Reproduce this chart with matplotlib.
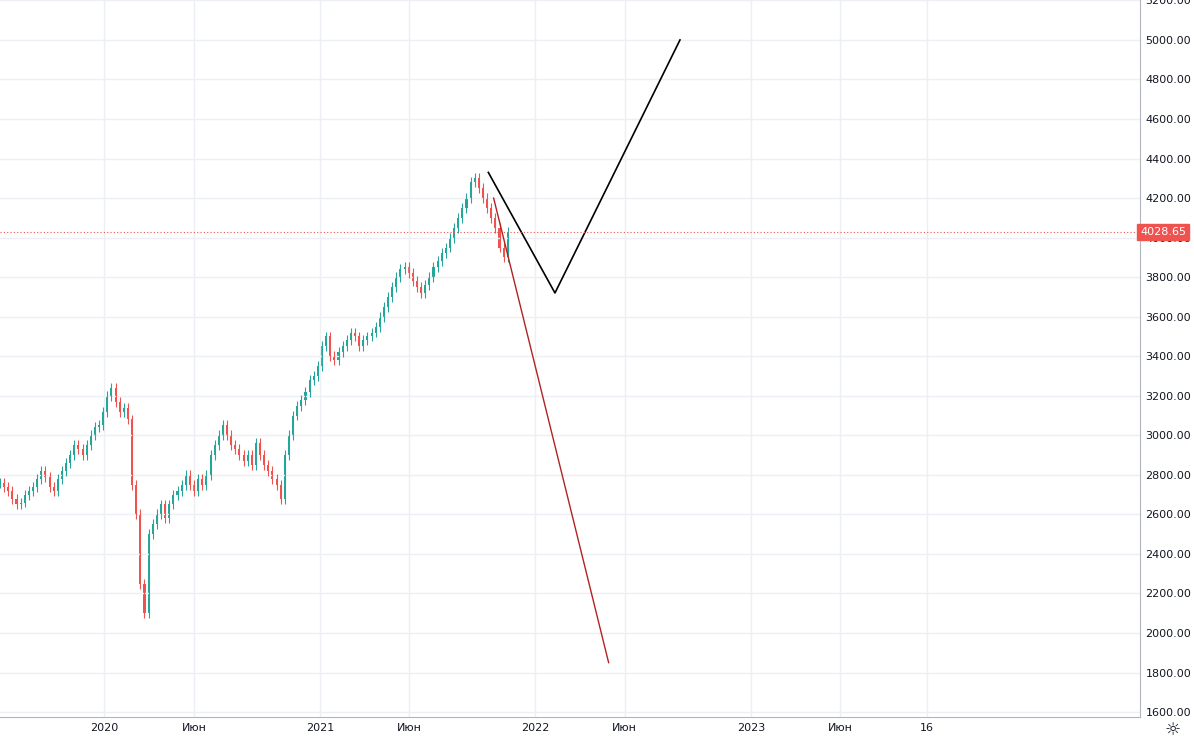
import matplotlib
matplotlib.use("Agg")
import matplotlib.pyplot as plt
import matplotlib.dates as mdates
import numpy as np
import datetime as dt

# weekly closes starting 2019-07-08
start = dt.date(2019, 7, 8)
closes = [2760, 2740, 2720, 2680, 2650, 2660, 2700, 2720, 2740, 2780, 2820, 2790, 2740, 2720,
          2780, 2820, 2860, 2900, 2950, 2930, 2900, 2950, 3000, 3040, 3050, 3120, 3200, 3240,
          3170, 3120, 3140, 3080, 2750, 2600, 2250, 2100, 2500, 2550, 2600, 2650, 2580, 2650,
          2700, 2720, 2750, 2800, 2750, 2720, 2780, 2750, 2800, 2900, 2950, 3000, 3050, 3000,
          2950, 2930, 2900, 2870, 2900, 2850, 2960, 2900, 2850, 2820, 2780, 2750, 2680, 2900,
          3000, 3100, 3150, 3180, 3220, 3280, 3300, 3350, 3450, 3500, 3400, 3380, 3420, 3450,
          3480, 3520, 3500, 3450, 3480, 3500, 3520, 3550, 3600, 3650, 3700, 3750, 3800, 3840,
          3850, 3820, 3780, 3750, 3720, 3760, 3800, 3850, 3880, 3920, 3950, 4000, 4050, 4100,
          4150, 4200, 4280, 4300, 4250, 4200, 4150, 4100, 4050, 3950, 3900, 4028.65]
last_price = 4028.65

black_dates = [dt.date(2021, 10, 13), dt.date(2022, 2, 3), dt.date(2022, 9, 3)]
black_vals = [4330, 3720, 5000]
red_dates = [dt.date(2021, 10, 22), dt.date(2022, 5, 5)]
red_vals = [4200, 1850]

tick_dates = [dt.date(2020, 1, 1), dt.date(2020, 6, 1), dt.date(2021, 1, 1), dt.date(2021, 6, 1),
              dt.date(2022, 1, 1), dt.date(2022, 6, 1), dt.date(2023, 1, 1), dt.date(2023, 6, 1),
              dt.date(2023, 10, 26)]
tick_labels = ["2020", "Июн", "2021", "Июн", "2022", "Июн", "2023", "Июн", "16"]

UP, DOWN = "#26a69a", "#ef5350"

fig = plt.figure(figsize=(11.94, 7.41), dpi=100)
ax = fig.add_axes([0, 24 / 741, 1140 / 1194, 1 - 24 / 741])

dates = [start + dt.timedelta(weeks=i) for i in range(len(closes))]
x = mdates.date2num(dates)
opens = [closes[0]] + closes[:-1]
w = 3.5
for xi, o, c in zip(x, opens, closes):
    col = UP if c >= o else DOWN
    hi, lo = max(o, c) + 25, min(o, c) - 25
    ax.vlines(xi, lo, hi, color=col, lw=0.8)
    ax.bar(xi, max(abs(c - o), 3), bottom=min(o, c), width=w, color=col, edgecolor=col, lw=0)

ax.plot(mdates.date2num(black_dates), black_vals, color="black", lw=1.2)
ax.plot(mdates.date2num(red_dates), red_vals, color="#b22222", lw=1.0)
ax.axhline(last_price, color=DOWN, lw=0.8, ls=(0, (1, 2)))

ax.set_xlim(mdates.date2num(dt.date(2019, 7, 8)), mdates.date2num(dt.date(2024, 10, 22)))
ax.set_ylim(1575, 5202)
ax.set_xticks(mdates.date2num(tick_dates))
ax.set_xticklabels(tick_labels)
ax.set_yticks(np.arange(1600, 5201, 200))
ax.yaxis.tick_right()
ax.yaxis.set_major_formatter(matplotlib.ticker.FuncFormatter(lambda v, p: f"{v:.2f}"))
ax.tick_params(length=0, labelsize=8, colors="#131722", pad=4)
ax.grid(color="#eceff4", lw=1)
for s in ["top", "left"]:
    ax.spines[s].set_visible(False)
ax.spines["right"].set_color("#b2b5be")
ax.spines["bottom"].set_color("#b2b5be")

ax.text(1.0, last_price, f"{last_price:.2f}", transform=ax.get_yaxis_transform(), ha="left",
        va="center", fontsize=8, color="white", zorder=5,
        bbox=dict(boxstyle="square,pad=0.3", fc=DOWN, ec=DOWN))
fig.text(0.982, 0.014, "☼", fontsize=13, color="#131722", ha="center", va="center")

fig.savefig("out.png", dpi=100, facecolor="white")
